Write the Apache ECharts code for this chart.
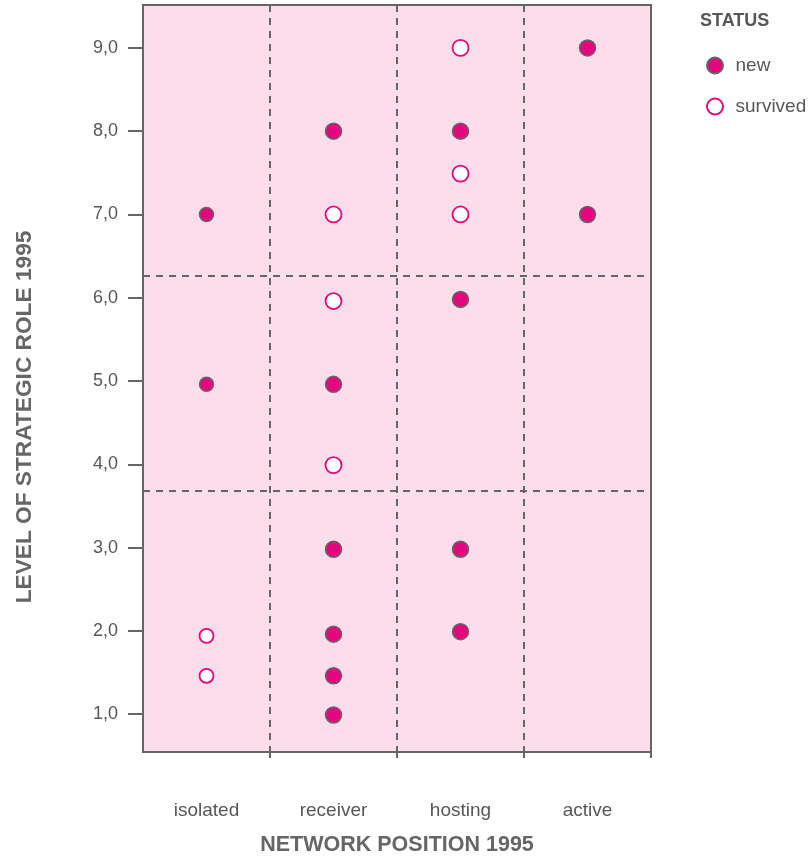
<!DOCTYPE html>
<html>
<head>
<meta charset="utf-8">
<script src="https://cdn.jsdelivr.net/npm/echarts@6/dist/echarts.min.js"></script>
<style>html,body{margin:0;padding:0;background:#fff}#c{width:811px;height:856px}</style>
</head>
<body>
<div id="c"></div>
<script>
const categories = ['isolated', 'receiver', 'hosting', 'active'];
const yTicks = [1, 2, 3, 4, 5, 6, 7, 8, 9];
const newX = ['isolated', 'isolated', 'receiver', 'receiver', 'receiver', 'receiver', 'receiver', 'receiver', 'hosting', 'hosting', 'hosting', 'hosting', 'active', 'active'];
const newY = [7.0, 4.96, 8.0, 4.96, 2.98, 1.96, 1.46, 0.99, 8.0, 5.98, 2.98, 1.99, 9.0, 7.0];
const survivedX = ['isolated', 'isolated', 'receiver', 'receiver', 'receiver', 'hosting', 'hosting', 'hosting'];
const survivedY = [1.94, 1.46, 7.0, 5.96, 3.99, 9.0, 7.49, 7.0];
const roleCuts = [6.26, 3.68];

const FONT = "'Liberation Sans', Arial, sans-serif";
const TXT = '#575757';
const MAG = '#e5057f';
const GRAY = '#666666';

function pairs(xs, ys) { return xs.map((x, i) => [x, ys[i]]); }
function sizeFn(v) { return v[0] === 'isolated' ? 14 : 16; }

const chart = echarts.init(document.getElementById('c'), null, { renderer: 'canvas' });
chart.setOption({
  animation: false,
  textStyle: { fontFamily: FONT },
  graphic: [{
    type: 'text', left: 700, top: 12,
    style: { text: 'STATUS', font: 'bold 18px ' + FONT, fill: TXT }
  }, {
    type: 'text', x: 25, y: 417, rotation: Math.PI / 2,
    style: {
      text: 'LEVEL OF STRATEGIC ROLE 1995', font: 'bold 22.7px ' + FONT, fill: GRAY,
      align: 'center', verticalAlign: 'middle'
    }
  }],
  legend: {
    orient: 'vertical', left: 701, top: 51, itemGap: 22,
    itemWidth: 31, itemHeight: 16,
    textStyle: { fontSize: 19, color: TXT, fontFamily: FONT },
    data: [{ name: 'new', icon: 'circle' }, { name: 'survived', icon: 'circle' }]
  },
  grid: {
    left: 143, right: 160, top: 5, bottom: 104, outerBoundsMode: 'none',
    show: true, backgroundColor: '#fbdee9', borderColor: GRAY, borderWidth: 2
  },
  xAxis: {
    type: 'category', data: categories, boundaryGap: true,
    name: 'NETWORK POSITION 1995', nameLocation: 'middle', nameGap: 82,
    nameTextStyle: { fontSize: 21.5, fontWeight: 'bold', color: GRAY, fontFamily: FONT },
    axisLine: { show: true, lineStyle: { color: GRAY, width: 2 } },
    axisTick: { show: true, length: 6, interval: i => i > 0, lineStyle: { color: GRAY, width: 2 } },
    axisLabel: { margin: 49, fontSize: 19, color: TXT, fontFamily: FONT },
    splitLine: { show: true, lineStyle: { color: GRAY, width: 2, type: [7, 6] } }
  },
  yAxis: {
    type: 'value', min: 0.545, max: 9.515,
    axisLine: { show: true, lineStyle: { color: GRAY, width: 2 } },
    axisTick: { show: true, length: 15, customValues: yTicks, lineStyle: { color: GRAY, width: 2 } },
    axisLabel: {
      customValues: yTicks, margin: 25, fontSize: 18, color: TXT, fontFamily: FONT,
      formatter: v => v.toFixed(1).replace('.', ',')
    },
    splitLine: { show: false }
  },
  series: [
    {
      name: 'new', type: 'scatter', z: 5,
      data: pairs(newX, newY),
      symbolSize: sizeFn,
      itemStyle: { color: MAG, borderColor: GRAY, borderWidth: 1.5, opacity: 1 },
      markLine: {
        silent: true, symbol: 'none', z: 1,
        label: { show: false },
        lineStyle: { color: GRAY, width: 2, type: [7, 6] },
        data: roleCuts.map(v => ({ yAxis: v }))
      }
    },
    {
      name: 'survived', type: 'scatter', z: 5,
      data: pairs(survivedX, survivedY),
      symbolSize: sizeFn,
      itemStyle: { color: '#ffffff', borderColor: MAG, borderWidth: 1.8, opacity: 1 }
    }
  ]
});
</script>
</body>
</html>
